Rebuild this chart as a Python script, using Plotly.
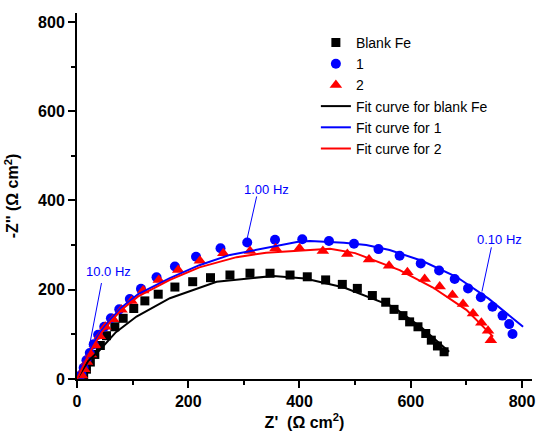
import plotly.graph_objects as go

# Experimental data (Z', -Z'')
blank_x = [12, 17, 24, 32, 42, 53, 68, 83, 102, 122, 146, 176, 208, 240, 275, 311, 347, 383, 414, 447, 477, 504, 531, 555, 570, 586, 598, 613, 627, 637, 648, 660]
blank_y = [8, 22, 38, 55, 75, 97, 117, 136, 158, 175, 190, 206, 218, 227, 233, 237, 237, 233, 229, 222, 212, 203, 187, 172, 156, 142, 128, 117, 102, 87, 74, 61]

s1_x = [8, 12, 17, 23, 30, 38, 49, 61, 76, 95, 115, 143, 176, 214, 258, 306, 356, 405, 453, 498, 542, 580, 618, 651, 679, 703, 726, 747, 765, 777, 783]
s1_y = [10, 25, 42, 58, 78, 99, 117, 136, 156, 179, 202, 228, 252, 274, 293, 306, 312, 313, 309, 303, 291, 276, 259, 243, 224, 203, 183, 162, 142, 123, 101]

s2_x = [9, 13, 18, 25, 33, 41, 51, 65, 80, 98, 119, 147, 182, 221, 263, 311, 357, 400, 442, 486, 525, 561, 594, 625, 652, 675, 694, 712, 727, 739, 744]
s2_y = [8, 22, 38, 55, 75, 96, 117, 134, 155, 175, 198, 222, 244, 265, 282, 287, 293, 293, 287, 280, 268, 254, 239, 224, 207, 188, 168, 147, 126, 108, 87]

# Fit curves
fit0_x = [0, 10, 20, 41, 70, 107, 167, 251, 353, 410, 480, 568, 620, 669]
fit0_y = [0, 20, 40, 65, 105, 140, 181, 218, 231, 225, 205, 162, 115, 61]

fit1_x = [0, 10, 20, 29, 45, 59, 80, 110, 167, 220, 275, 328, 400, 419, 480, 520, 562, 620, 682, 740, 802]
fit1_y = [0, 30, 55, 80, 110, 132, 160, 190, 226, 255, 278, 291, 308, 309, 305, 300, 289, 265, 229, 180, 117]

fit2_x = [0, 10, 20, 30, 45, 60, 80, 110, 167, 220, 287, 340, 419, 455, 500, 580, 640, 700, 748]
fit2_y = [0, 28, 52, 75, 105, 128, 155, 185, 222, 250, 273, 283, 289, 292, 282, 244, 205, 155, 95]

x_ticks = [0, 200, 400, 600, 800]
y_ticks = [0, 200, 400, 600, 800]

FONT = "Arial, 'Liberation Sans', sans-serif"

fig = go.Figure()
fig.add_trace(go.Scatter(x=blank_x, y=blank_y, mode="markers", name="Blank Fe",
                         marker=dict(symbol="square", size=9, color="black")))
fig.add_trace(go.Scatter(x=s1_x, y=s1_y, mode="markers", name="1",
                         marker=dict(symbol="circle", size=10, color="#0000ff")))
fig.add_trace(go.Scatter(x=s2_x, y=s2_y, mode="markers", name="2",
                         marker=dict(symbol="triangle-up", size=11, color="#ff0000")))
fig.add_trace(go.Scatter(x=fit0_x, y=fit0_y, mode="lines", name="Fit curve for blank Fe",
                         line=dict(color="black", width=2)))
fig.add_trace(go.Scatter(x=fit1_x, y=fit1_y, mode="lines", name="Fit curve for 1",
                         line=dict(color="#0000ff", width=2)))
fig.add_trace(go.Scatter(x=fit2_x, y=fit2_y, mode="lines", name="Fit curve for 2",
                         line=dict(color="#ff0000", width=2)))

# Frequency annotations
ann = [
    ("10.0 Hz", 56, 240, 44, 215, 22, 72),
    ("1.00 Hz", 341, 424, 323, 409, 306, 315),
    ("0.10 Hz", 760, 312, 745, 295, 728, 196),
]
for text, tx, ty, x0, y0, x1, y1 in ann:
    fig.add_annotation(x=tx, y=ty, text=text, showarrow=False,
                       font=dict(family=FONT, size=13, color="#0000ff"))
    fig.add_shape(type="line", x0=x0, y0=y0, x1=x1, y1=y1,
                  line=dict(color="#0000ff", width=1))

axis_common = dict(
    showline=True, linecolor="black", linewidth=2, showgrid=False, zeroline=False,
    ticks="outside", ticklen=7, tickwidth=2, tickcolor="black", automargin=False,
    tickfont=dict(family=FONT, size=16, color="black", weight="bold"),
    minor=dict(ticks="outside", ticklen=4, tickwidth=2, tickcolor="black", dtick=100),
)

fig.update_layout(
    width=537, height=431,
    margin=dict(l=77, r=5, t=13, b=52),
    plot_bgcolor="white", paper_bgcolor="white",
    font=dict(family=FONT, color="black"),
    showlegend=True,
    legend=dict(x=0.525, y=0.962, xanchor="left", yanchor="top",
                font=dict(family=FONT, size=14, color="black"),
                bgcolor="rgba(0,0,0,0)", tracegroupgap=0),
    xaxis=dict(range=[0, 818], tickvals=x_ticks,
               title=dict(text="Z'  (Ω cm<sup>2</sup>)",
                          font=dict(family=FONT, size=16, color="black", weight="bold")),
               **axis_common),
    yaxis=dict(range=[0, 820], tickvals=y_ticks,
               title=dict(text="-Z'' (Ω cm<sup>2</sup>)",
                          font=dict(family=FONT, size=16, color="black", weight="bold")),
               **axis_common),
)

# Remove the default page margin so the figure fills the window exactly.
fig.write_html("out.html", config={"displayModeBar": False},
               post_script="document.body.style.margin='0';document.body.style.overflow='hidden';")
